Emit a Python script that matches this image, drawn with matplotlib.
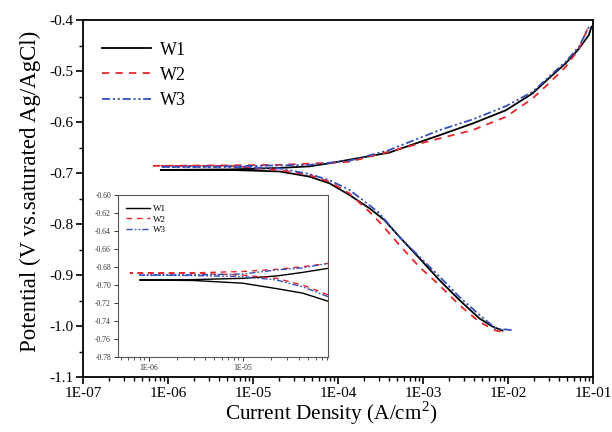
import numpy as np
import matplotlib
matplotlib.use("Agg")
import matplotlib.pyplot as plt
from matplotlib.ticker import FixedLocator, FuncFormatter, LogLocator, NullFormatter, MultipleLocator

plt.rcParams['font.family'] = ['Liberation Serif', 'DejaVu Serif']
plt.rcParams['mathtext.fontset'] = 'custom'
plt.rcParams['mathtext.rm'] = 'Liberation Serif'

# ---------------- main data (current A/cm2, potential V) ----------------
w1_cat_i = [8.2e-7, 5.3e-6, 2.06e-5, 4.6e-5, 7.9e-5, 1.36e-4, 2.34e-4, 3.5e-4, 5.27e-4, 9.06e-4, 1.56e-3, 2.68e-3, 4.6e-3, 6.56e-3, 8.6e-3]
w1_cat_e = [-0.694, -0.694, -0.697, -0.707, -0.720, -0.743, -0.769, -0.792, -0.825, -0.867, -0.910, -0.949, -0.985, -1.001, -1.009]
w1_an_i = [8.2e-7, 5.3e-6, 2.06e-5, 4.6e-5, 7.9e-5, 1.36e-4, 4.0e-4, 1.56e-3, 3.83e-3, 9.44e-3, 1.94e-2, 3.04e-2, 4.77e-2, 6.85e-2, 8.97e-2, 9.6e-2]
w1_an_e = [-0.694, -0.693, -0.690, -0.687, -0.681, -0.674, -0.660, -0.626, -0.603, -0.577, -0.544, -0.514, -0.485, -0.456, -0.429, -0.413]

w2_cat_i = [6.8e-7, 5.3e-6, 2.06e-5, 4.6e-5, 7.9e-5, 1.36e-4, 2.34e-4, 3.07e-4, 5.27e-4, 9.06e-4, 1.56e-3, 2.68e-3, 4.6e-3, 7.2e-3, 8.2e-3]
w2_cat_e = [-0.686, -0.686, -0.694, -0.704, -0.717, -0.740, -0.776, -0.796, -0.841, -0.884, -0.920, -0.959, -0.992, -1.009, -1.011]
w2_an_i = [6.8e-7, 5.3e-6, 2.06e-5, 7.9e-5, 1.36e-4, 4.0e-4, 1.5e-3, 3.83e-3, 9.44e-3, 1.94e-2, 3.04e-2, 4.77e-2, 6.85e-2, 8.5e-2, 9.4e-2]
w2_an_e = [-0.686, -0.685, -0.684, -0.680, -0.678, -0.658, -0.633, -0.616, -0.590, -0.554, -0.524, -0.492, -0.456, -0.420, -0.409]

w3_cat_i = [8.2e-7, 5.3e-6, 2.06e-5, 4.6e-5, 7.9e-5, 1.36e-4, 2.34e-4, 3.07e-4, 5.27e-4, 9.06e-4, 1.56e-3, 2.68e-3, 4.6e-3, 7.2e-3, 1.1e-2]
w3_cat_e = [-0.688, -0.688, -0.691, -0.702, -0.714, -0.733, -0.763, -0.779, -0.825, -0.864, -0.903, -0.943, -0.978, -1.005, -1.008]
w3_an_i = [8.2e-7, 5.3e-6, 2.06e-5, 4.6e-5, 7.9e-5, 1.36e-4, 4.0e-4, 1.56e-3, 3.83e-3, 9.44e-3, 1.94e-2, 3.04e-2, 4.77e-2, 6.85e-2, 9.0e-2]
w3_an_e = [-0.688, -0.687, -0.685, -0.684, -0.680, -0.676, -0.655, -0.616, -0.595, -0.569, -0.541, -0.511, -0.482, -0.452, -0.413]

# ---------------- inset data ----------------
in_w1_cat_i = [8e-7, 3e-6, 1e-5, 2.29e-5, 4.35e-5, 8.1e-5]
in_w1_cat_e = [-0.6944, -0.695, -0.698, -0.704, -0.709, -0.718]
in_w1_an_i = [8e-7, 3e-6, 1e-5, 2.29e-5, 4.35e-5, 8.1e-5]
in_w1_an_e = [-0.6944, -0.694, -0.6926, -0.690, -0.686, -0.6815]
in_w2_cat_i = [6.3e-7, 3e-6, 1e-5, 2.29e-5, 4.35e-5, 8.1e-5]
in_w2_cat_e = [-0.6867, -0.687, -0.689, -0.6926, -0.700, -0.711]
in_w2_an_i = [6.3e-7, 3e-6, 1e-5, 2.29e-5, 4.35e-5, 8.1e-5]
in_w2_an_e = [-0.6867, -0.6865, -0.685, -0.6826, -0.6797, -0.676]
in_w3_cat_i = [8e-7, 3e-6, 1e-5, 2.29e-5, 4.35e-5, 8.1e-5]
in_w3_cat_e = [-0.689, -0.6895, -0.6907, -0.6944, -0.702, -0.713]
in_w3_an_i = [8e-7, 3e-6, 1e-5, 2.29e-5, 4.35e-5, 8.1e-5]
in_w3_an_e = [-0.689, -0.6888, -0.6878, -0.6833, -0.681, -0.676]

labels = ["W1", "W2", "W3"]
colors = ["black", "#e8262b", "#3550b8"]
dash_styles = [None, (4, 3.5), (4.5, 1.5, 1.2, 1.5, 1.2, 1.5)]

x_ticks = [1e-7, 1e-6, 1e-5, 1e-4, 1e-3, 1e-2, 1e-1]
y_ticks = [-1.1, -1.0, -0.9, -0.8, -0.7, -0.6, -0.5, -0.4]
inset_y_ticks = [-0.78, -0.76, -0.74, -0.72, -0.70, -0.68, -0.66, -0.64, -0.62, -0.60]


def join(ci, ce, ai, ae):
    x = list(ci[::-1]) + list(ai[1:])
    y = list(ce[::-1]) + list(ae[1:])
    return x, y


main_series = [
    join(w1_cat_i, w1_cat_e, w1_an_i, w1_an_e),
    join(w2_cat_i, w2_cat_e, w2_an_i, w2_an_e),
    join(w3_cat_i, w3_cat_e, w3_an_i, w3_an_e),
]
inset_series = [
    join(in_w1_cat_i, in_w1_cat_e, in_w1_an_i, in_w1_an_e),
    join(in_w2_cat_i, in_w2_cat_e, in_w2_an_i, in_w2_an_e),
    join(in_w3_cat_i, in_w3_cat_e, in_w3_an_i, in_w3_an_e),
]

fig = plt.figure(figsize=(6.12, 4.32), dpi=100)
ax = fig.add_axes([83 / 612, 1 - 377 / 432, (593 - 83) / 612, (377 - 20) / 432])

for (x, y), lab, c, d in zip(main_series, labels, colors, dash_styles):
    line, = ax.plot(x, y, color=c, lw=1.3, label=lab)
    if d is not None:
        line.set_dashes(d)

ax.set_xscale('log')
ax.set_xlim(1e-7, 1e-1)
ax.set_ylim(-1.1, -0.4)
ax.xaxis.set_major_locator(FixedLocator(x_ticks))
ax.xaxis.set_major_formatter(FuncFormatter(lambda v, p: "1E-%02d" % int(round(-np.log10(v)))))
ax.xaxis.set_minor_locator(LogLocator(base=10, subs=np.arange(2, 10), numticks=20))
ax.xaxis.set_minor_formatter(NullFormatter())
ax.yaxis.set_major_locator(FixedLocator(y_ticks))
ax.yaxis.set_major_formatter(FuncFormatter(lambda v, p: "%.1f" % v))
ax.yaxis.set_minor_locator(MultipleLocator(0.05))
ax.tick_params(which='major', direction='out', length=5, width=1.2, labelsize=11, pad=2, top=False, right=False)
ax.tick_params(which='minor', direction='out', length=3, width=1.0, top=False, right=False)
for s in ax.spines.values():
    s.set_linewidth(1.3)
ax.set_xlabel('Current Density (A/cm$^{\\mathrm{2}}$)', fontsize=15.3, labelpad=0, x=0.487)
ax.set_ylabel('Potential (V vs.saturated Ag/AgCl)', fontsize=16.5, labelpad=6, y=0.52)
ax.legend(loc='upper left', bbox_to_anchor=(0.005, 0.985), frameon=False, fontsize=13,
          handlelength=2.7, handletextpad=0.5, labelspacing=0.45)

# ---------------- inset ----------------
axi = fig.add_axes([118 / 612, 1 - 357 / 432, (328 - 118) / 612, (357 - 195) / 432])
for (x, y), lab, c, d in zip(inset_series, labels, colors, dash_styles):
    line, = axi.plot(x, y, color=c, lw=1.0, label=lab)
    if d is not None:
        line.set_dashes(d)
axi.set_xscale('log')
axi.set_xlim(4.7e-7, 8.1e-5)
axi.set_ylim(-0.78, -0.60)
axi.xaxis.set_major_locator(FixedLocator([1e-6, 1e-5]))
axi.xaxis.set_major_formatter(FuncFormatter(lambda v, p: "1E-%02d" % int(round(-np.log10(v)))))
axi.xaxis.set_minor_locator(LogLocator(base=10, subs=np.arange(2, 10), numticks=20))
axi.xaxis.set_minor_formatter(NullFormatter())
axi.yaxis.set_major_locator(FixedLocator(inset_y_ticks))
axi.yaxis.set_major_formatter(FuncFormatter(lambda v, p: "%.2f" % v))
axi.tick_params(which='major', direction='out', length=3, width=0.7, labelsize=5.5, pad=2, colors='#333333')
axi.tick_params(which='minor', direction='out', length=1.8, width=0.6, colors='#333333')
for s in axi.spines.values():
    s.set_linewidth(0.8)
    s.set_color('#555555')
axi.legend(loc='upper left', bbox_to_anchor=(0.0, 0.99), frameon=False, fontsize=6.5,
           handlelength=2.6, handletextpad=0.4, labelspacing=0.25)

fig.savefig('out.png', dpi=100)
